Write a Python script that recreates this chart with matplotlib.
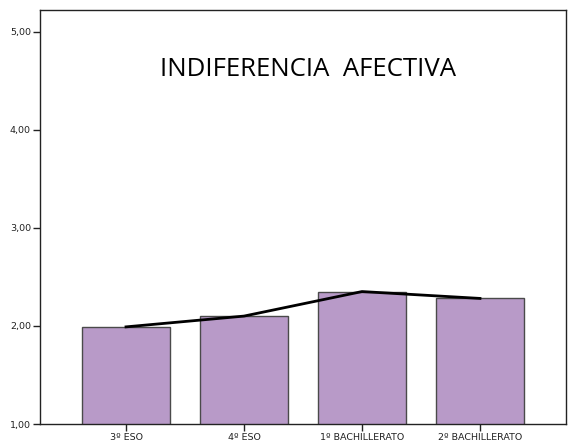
import matplotlib
matplotlib.use('Agg')
import matplotlib.pyplot as plt
import numpy as np

categories = ['3º ESO', '4º ESO', '1º BACHILLERATO', '2º BACHILLERATO']
means = [1.99, 2.10, 2.35, 2.28]
yticks = [1.0, 2.0, 3.0, 4.0, 5.0]

fig = plt.figure(figsize=(5.69, 4.44), dpi=100)
ax = fig.add_axes([40 / 569, 20 / 444, 526 / 569, 414 / 444])

x = np.arange(len(categories))
ax.bar(x, means, width=0.746, bottom=0, color='#b89ac8', edgecolor='#4a4a4a', linewidth=1.0, zorder=2)
ax.plot(x, means, color='black', linewidth=2.0, zorder=3)

ax.set_ylim(1.0, 5.22)
ax.set_xlim(-0.729, 3.729)
ax.set_yticks(yticks)
ax.set_yticklabels([('%.2f' % v).replace('.', ',') for v in yticks])
ax.set_xticks(x)
ax.set_xticklabels(categories)
ax.tick_params(axis='both', direction='out', length=5, width=1, labelsize=6.8, colors='#222222', pad=1.5)

for s in ax.spines.values():
    s.set_linewidth(1.0)
    s.set_color('#222222')

# title placed in pixel coords (origin bottom-left)
fig.text(308 / 569, 1 - 69 / 444, 'INDIFERENCIA  AFECTIVA', fontsize=18.5,
         family='Open Sans', ha='center', va='center')

fig.savefig('out.png', dpi=100)
